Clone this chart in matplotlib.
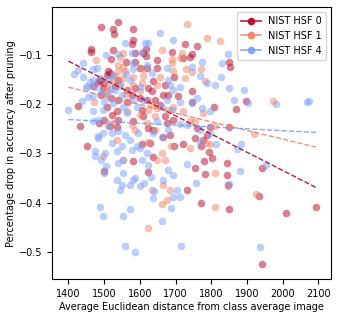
import numpy as np
import matplotlib
matplotlib.use('Agg')
import matplotlib.pyplot as plt
from matplotlib.lines import Line2D

# NIST HSF 0
hsf0_x = [1491, 1526, 1528, 1538, 1582, 1580, 1577, 1463, 1463, 1526, 1518, 1510, 1507, 1515,
          1487, 1484, 1500, 1587, 1610, 1617, 1617, 1561, 1587, 1601, 1620, 1647, 1647, 1691,
          1727, 1745, 1739, 1759, 1722, 1696, 1638, 1671, 1624, 1587, 1564, 1540, 1531, 1498,
          1470, 1491, 1519, 1508, 1540, 1564, 1577, 1601, 1620, 1633, 1643, 1657, 1665, 1680,
          1708, 1745, 1745, 1605, 1535, 1522, 1540, 1517, 1486, 1500, 1537, 1428, 1431, 1453,
          1582, 1610, 1624, 1638, 1671, 1675, 1694, 1666, 1685, 1629, 1605, 1638, 1582, 1624,
          1500, 1696, 1722, 1731, 1754, 1770, 1778, 1759, 1787, 1797, 1795, 1803, 1780, 1783,
          1755, 1770, 1809, 1851, 1853, 1868, 1896, 1851, 1843, 1848, 1851, 1843, 1943, 1935,
          2010, 2093, 1941]
hsf0_y = [-0.044, -0.048, -0.059, -0.034, -0.048, -0.070, -0.078, -0.089, -0.095, -0.090, -0.108,
          -0.134, -0.141, -0.137, -0.151, -0.156, -0.157, -0.097, -0.097, -0.088, -0.103, -0.114,
          -0.114, -0.127, -0.127, -0.110, -0.127, -0.095, -0.078, -0.098, -0.105, -0.083, -0.107,
          -0.145, -0.154, -0.161, -0.168, -0.168, -0.171, -0.151, -0.164, -0.168, -0.163, -0.181,
          -0.188, -0.205, -0.191, -0.195, -0.181, -0.188, -0.191, -0.174, -0.191, -0.201, -0.181,
          -0.181, -0.184, -0.174, -0.195, -0.212, -0.215, -0.222, -0.232, -0.245, -0.239, -0.232,
          -0.247, -0.203, -0.244, -0.285, -0.235, -0.225, -0.249, -0.252, -0.225, -0.239, -0.232,
          -0.266, -0.262, -0.279, -0.280, -0.308, -0.316, -0.337, -0.335, -0.286, -0.281, -0.374,
          -0.268, -0.286, -0.272, -0.249, -0.262, -0.247, -0.298, -0.310, -0.316, -0.341, -0.330,
          -0.401, -0.206, -0.115, -0.124, -0.210, -0.194, -0.247, -0.343, -0.364, -0.412, -0.320,
          -0.330, -0.386, -0.420, -0.409, -0.524]

# NIST HSF 1
hsf1_x = [1732, 1787, 1825, 1661, 1690, 1718, 1729, 1745, 1783, 1772, 1690, 1478, 1554, 1554,
          1559, 1554, 1545, 1531, 1507, 1512, 1610, 1605, 1582, 1601, 1633, 1647, 1624, 1641,
          1620, 1601, 1564, 1577, 1680, 1694, 1722, 1741, 1755, 1778, 1785, 1797, 1811, 1739,
          1688, 1661, 1671, 1647, 1633, 1666, 1685, 1675, 1661, 1622, 1811, 1811, 1848, 1925,
          1921, 1974, 1535, 1496, 1554, 1587, 1643, 1657, 1694, 1713, 1647, 1568, 1472, 1540,
          1610, 1727, 1624, 1526, 1540, 1545, 1525, 1560, 1505, 1580]
hsf1_y = [-0.037, -0.066, -0.073, -0.090, -0.109, -0.097, -0.130, -0.136, -0.154, -0.129, -0.117,
          -0.110, -0.097, -0.124, -0.134, -0.147, -0.164, -0.144, -0.161, -0.174, -0.144, -0.157,
          -0.161, -0.174, -0.201, -0.208, -0.212, -0.225, -0.239, -0.222, -0.215, -0.242, -0.212,
          -0.205, -0.215, -0.235, -0.235, -0.218, -0.278, -0.280, -0.245, -0.289, -0.284, -0.299,
          -0.313, -0.313, -0.374, -0.364, -0.374, -0.394, -0.402, -0.452, -0.340, -0.408, -0.367,
          -0.383, -0.261, -0.193, -0.272, -0.306, -0.313, -0.252, -0.252, -0.145, -0.134, -0.107,
          -0.161, -0.195, -0.195, -0.134, -0.130, -0.147, -0.276, -0.239, -0.120, -0.105, -0.150,
          -0.180, -0.175, -0.145]

# NIST HSF 4
hsf4_x = [1694, 1657, 1615, 1559, 1624, 1505, 1540, 1577, 1605, 1577, 1442, 1416, 1426, 1470,
          1480, 1442, 1400, 1437, 1449, 1453, 1468, 1470, 1470, 1470, 1484, 1484, 1484, 1475,
          1475, 1503, 1491, 1505, 1500, 1535, 1540, 1554, 1552, 1535, 1550, 1545, 1571, 1580,
          1587, 1601, 1612, 1605, 1624, 1631, 1638, 1640, 1666, 1680, 1694, 1703, 1713, 1694,
          1687, 1661, 1571, 1487, 1497, 1552, 1559, 1585, 1716, 1937, 1731, 1757, 1849, 1881,
          1953, 1873, 1883, 1813, 1797, 1769, 1769, 1731, 1713, 1745, 1760, 1773, 1797, 1851,
          1811, 1827, 1829, 1848, 1893, 1902, 1865, 1981, 2068, 2073, 1769, 1745, 1788, 1773,
          1713, 1685, 1675, 1694, 1713, 1691, 1675, 1661, 1647, 1661, 1680, 1638, 1620, 1591,
          1573, 1559, 1540, 1522, 1512, 1526, 1552, 1564, 1591, 1582, 1610, 1550, 1531, 1507,
          1498, 1498, 1522, 1550, 1577, 1601, 1596, 1573, 1582, 1620, 1633, 1680, 1489, 1526,
          1460, 1475, 1490, 1510, 1520, 1545, 1560, 1600, 1455, 1500]
hsf4_y = [-0.070, -0.056, -0.076, -0.076, -0.076, -0.100, -0.098, -0.097, -0.095, -0.117, -0.116,
          -0.139, -0.132, -0.130, -0.127, -0.145, -0.212, -0.193, -0.168, -0.164, -0.151, -0.184,
          -0.215, -0.235, -0.232, -0.264, -0.269, -0.296, -0.306, -0.299, -0.313, -0.326, -0.339,
          -0.296, -0.320, -0.313, -0.339, -0.354, -0.364, -0.374, -0.364, -0.354, -0.350, -0.367,
          -0.360, -0.313, -0.323, -0.348, -0.391, -0.377, -0.354, -0.333, -0.343, -0.374, -0.388,
          -0.388, -0.410, -0.437, -0.413, -0.408, -0.427, -0.427, -0.487, -0.500, -0.487, -0.490,
          -0.321, -0.360, -0.362, -0.336, -0.323, -0.291, -0.281, -0.280, -0.258, -0.276, -0.252,
          -0.242, -0.240, -0.198, -0.188, -0.208, -0.214, -0.168, -0.161, -0.145, -0.116, -0.098,
          -0.172, -0.198, -0.191, -0.200, -0.195, -0.193, -0.144, -0.124, -0.157, -0.114, -0.166,
          -0.161, -0.127, -0.171, -0.195, -0.212, -0.191, -0.206, -0.235, -0.266, -0.252, -0.259,
          -0.299, -0.286, -0.272, -0.262, -0.255, -0.259, -0.245, -0.198, -0.205, -0.218, -0.205,
          -0.191, -0.191, -0.181, -0.171, -0.184, -0.212, -0.259, -0.279, -0.284, -0.293, -0.289,
          -0.259, -0.151, -0.130, -0.120, -0.137, -0.151, -0.147, -0.141, -0.155, -0.165, -0.175,
          -0.150, -0.170, -0.160, -0.140, -0.165, -0.185, -0.195]

labels = ['NIST HSF 0', 'NIST HSF 1', 'NIST HSF 4']
hsf_ids = [0, 1, 4]
series = [(hsf0_x, hsf0_y), (hsf1_x, hsf1_y), (hsf4_x, hsf4_y)]

cmap = plt.get_cmap('coolwarm')
plt.rcParams['font.size'] = 7

fig = plt.figure(figsize=(3.38, 3.17), dpi=100)
ax = fig.add_axes([0.155, 0.119, 0.824, 0.858])

all_x = np.concatenate([np.array(s[0]) for s in series])
xs = np.linspace(all_x.min(), all_x.max(), 2)

handles = []
for (x, y), hid, lab in zip(series, hsf_ids, labels):
    c = cmap(1 - hid / 5)
    ax.scatter(x, y, s=30, color=c, alpha=0.5, linewidths=0)
    k, b = np.polyfit(x, y, 1)
    ax.plot(xs, k * xs + b, '--', color=c, lw=1, alpha=0.9)
    handles.append(Line2D([], [], color=c, marker='o', markersize=4.5, lw=1.2, alpha=0.9, label=lab))

ax.set_xlim(1355, 2135)
ax.set_ylim(-0.555, -0.004)
ax.set_xticks([1400, 1500, 1600, 1700, 1800, 1900, 2000, 2100])
ax.set_yticks([-0.1, -0.2, -0.3, -0.4, -0.5])
ax.set_xlabel('Average Euclidean distance from class average image', labelpad=2)
ax.set_ylabel('Percentage drop in accuracy after pruning', labelpad=2)
ax.legend(handles=handles, loc='upper right', fontsize=7)

fig.savefig('out.png', dpi=100)
